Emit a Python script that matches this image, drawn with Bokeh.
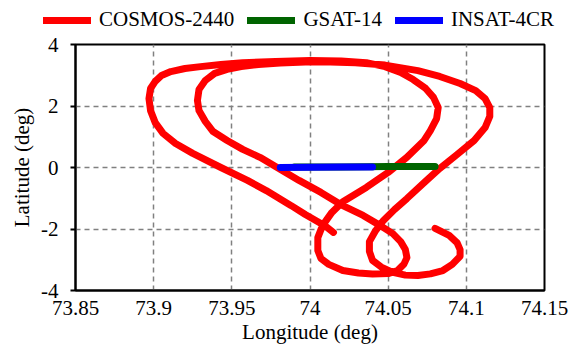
from bokeh.plotting import figure
from bokeh.models import Range1d, FixedTicker, CustomJSTickFormatter, Legend, LegendItem
from bokeh.embed import file_html
from bokeh.resources import INLINE

# COSMOS-2440 ground track (longitude, latitude in deg)
cosmos_lon = [74.015, 74.011, 74.007, 73.997, 73.988, 73.972, 73.960, 73.943, 73.925, 73.914,
              73.906, 73.901, 73.898, 73.897, 73.898, 73.901, 73.905, 73.911, 73.920, 73.930,
              73.943, 73.957, 73.978, 74.000, 74.020, 74.036, 74.048, 74.058, 74.066, 74.074,
              74.079, 74.082, 74.081, 74.077, 74.073, 74.062, 74.050, 74.036, 74.021, 74.014,
              74.008, 74.005, 74.005, 74.007, 74.012, 74.021, 74.031, 74.040, 74.050, 74.056,
              74.060, 74.062, 74.061, 74.058, 74.053, 74.045, 74.034, 74.021, 74.007, 73.993,
              73.979, 73.968, 73.957, 73.947, 73.938, 73.933, 73.929, 73.928, 73.929, 73.933,
              73.939, 73.947, 73.956, 73.967, 73.981, 73.997, 74.013, 74.029, 74.048, 74.069,
              74.083, 74.096, 74.106, 74.112, 74.115, 74.115, 74.112, 74.105, 74.094, 74.083,
              74.073, 74.062, 74.054, 74.047, 74.042, 74.038, 74.038, 74.040, 74.046, 74.053,
              74.061, 74.069, 74.077, 74.085, 74.091, 74.096, 74.096, 74.094, 74.089, 74.080]
cosmos_lat = [-2.11, -1.95, -1.82, -1.53, -1.24, -0.75, -0.42, 0.00, 0.46, 0.78,
              1.11, 1.46, 1.85, 2.24, 2.57, 2.80, 2.99, 3.12, 3.22, 3.28,
              3.35, 3.41, 3.45, 3.48, 3.46, 3.41, 3.28, 3.09, 2.86, 2.57,
              2.28, 1.95, 1.59, 1.20, 0.88, 0.33, -0.16, -0.65, -1.11, -1.46,
              -1.89, -2.28, -2.70, -2.96, -3.15, -3.35, -3.43, -3.46, -3.45, -3.35,
              -3.15, -2.93, -2.67, -2.41, -2.15, -1.89, -1.56, -1.24, -0.81, -0.42,
              0.00, 0.33, 0.59, 0.88, 1.17, 1.50, 1.85, 2.18, 2.54, 2.83,
              3.06, 3.19, 3.28, 3.35, 3.40, 3.43, 3.43, 3.41, 3.33, 3.15,
              2.96, 2.73, 2.50, 2.24, 1.95, 1.66, 1.30, 0.88, 0.42, -0.03,
              -0.49, -1.01, -1.37, -1.72, -2.05, -2.41, -2.73, -3.02, -3.25, -3.41,
              -3.50, -3.51, -3.46, -3.35, -3.15, -2.89, -2.67, -2.44, -2.21, -1.98]

gsat_lon = [73.990, 74.020, 74.050, 74.080]
gsat_lat = [0.02, 0.02, 0.03, 0.03]

insat_lon = [73.981, 74.000, 74.020, 74.040]
insat_lat = [0.00, 0.01, 0.02, 0.02]

series_names = ["COSMOS-2440", "GSAT-14", "INSAT-4CR"]
series_colors = ["#ff0000", "#006400", "#0000ff"]
series_data = [(cosmos_lon, cosmos_lat), (gsat_lon, gsat_lat), (insat_lon, insat_lat)]

x_ticks = [73.85, 73.9, 73.95, 74.0, 74.05, 74.1, 74.15]
y_ticks = [-4, -2, 0, 2, 4]

FONT = "Liberation Serif"
FS = "21px"

# ---- legend strip (separate root, top of page) ----
lf = figure(width=576, height=32, output_backend="svg", toolbar_location=None,
            min_border=0, x_range=Range1d(0, 1), y_range=Range1d(0, 1),
            x_axis_location=None, y_axis_location=None)
lf.outline_line_color = None
lf.border_fill_color = "white"
lf.grid.visible = False
# same series drawn here (outside this strip's visible range) so the legend samples them
lrs = [lf.line(xs, ys, line_color=c, line_width=7, line_cap="round")
       for (xs, ys), c in zip(series_data, series_colors)]
legend = Legend(items=[LegendItem(label=n, renderers=[r]) for n, r in zip(series_names, lrs)],
                orientation="horizontal", location=(43, 0),
                glyph_width=48, label_standoff=8, spacing=13, padding=0, margin=0,
                border_line_color=None, background_fill_alpha=0,
                label_text_font=FONT, label_text_font_size=FS, label_text_color="black")
lf.add_layout(legend, "center")

# ---- main plot ----
p = figure(width=576, height=321, output_backend="svg", toolbar_location=None,
           x_range=Range1d(73.85, 74.15), y_range=Range1d(-4, 4),
           min_border_left=75, min_border_right=32, min_border_top=12, min_border_bottom=63,
           x_axis_label="Longitude (deg)", y_axis_label="Latitude (deg)")
p.background_fill_color = "white"
p.border_fill_color = "white"
p.outline_line_color = "black"
p.outline_line_width = 2
p.outline_line_alpha = 1

for (xs, ys), c in zip(series_data, series_colors):
    p.line(xs, ys, line_color=c, line_width=7, line_cap="round", line_join="round")

fmt = "return String(Math.round(tick*100)/100);"
for ax, ticks in ((p.xaxis[0], x_ticks), (p.yaxis[0], y_ticks)):
    ax.ticker = FixedTicker(ticks=ticks)
    ax.formatter = CustomJSTickFormatter(code=fmt)
    ax.minor_tick_line_color = None
    ax.axis_line_color = "black"
    ax.axis_line_width = 2
    ax.major_tick_line_color = "black"
    ax.major_tick_line_width = 2
    ax.major_label_text_font_size = FS
    ax.major_label_text_color = "black"
    ax.axis_label_text_font = FONT
    ax.axis_label_text_font_size = FS
    ax.axis_label_text_font_style = "normal"
    ax.axis_label_text_color = "black"

p.xaxis.major_label_text_font = "'Liberation Serif'"
p.yaxis.major_label_text_font = "Liberation Serif, serif"

p.xaxis.major_tick_out = 0
p.xaxis.major_tick_in = 0
p.xaxis.major_label_standoff = 10
p.xaxis.axis_label_standoff = 2
p.yaxis.major_tick_out = 5
p.yaxis.major_tick_in = 0
p.yaxis.major_label_standoff = 12
p.yaxis.axis_label_standoff = 4

p.xgrid.ticker = FixedTicker(ticks=x_ticks)
p.ygrid.ticker = FixedTicker(ticks=y_ticks)
for g in (p.xgrid[0], p.ygrid[0]):
    g.grid_line_color = "#808080"
    g.grid_line_dash = "5 4"
    g.grid_line_width = 1.5

open("out.html", "w").write(file_html([lf, p], INLINE))
